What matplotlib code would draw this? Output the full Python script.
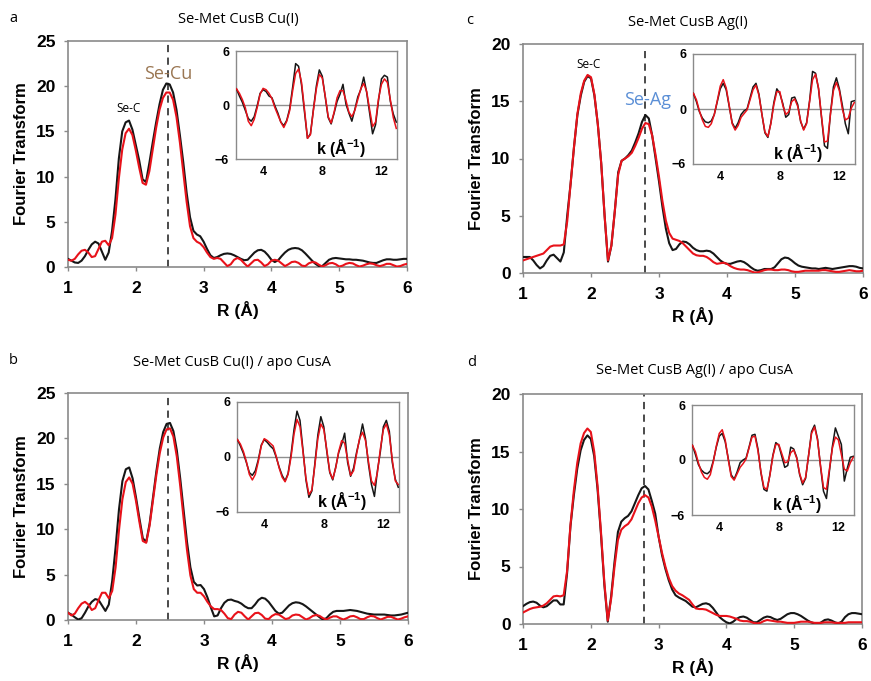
import numpy as np
import matplotlib
matplotlib.use("Agg")
import matplotlib.pyplot as plt

plt.rcParams['font.family'] = ['Liberation Sans', 'DejaVu Sans']
plt.rcParams['mathtext.fontset'] = 'custom'
plt.rcParams['mathtext.bf'] = 'Liberation Sans:bold'
plt.rcParams['mathtext.rm'] = 'Liberation Sans:bold'

# R grid (Å) shared by all Fourier transform curves, 0.05 Å spacing
r_grid = np.round(np.arange(1.0, 6.0001, 0.05), 2)
# k grid (Å^-1) for the EXAFS insets, 0.2 spacing
k_grid = np.round(np.arange(2.2, 13.0001, 0.2), 1)

# --- a: Se-Met CusB Cu(I) ---
ft_a_exp = [0.9, 0.7, 0.5, 0.45, 0.7, 1.2, 1.9, 2.5, 2.8, 2.6,
            1.7, 0.8, 1.6, 4.0, 7.5, 12.0, 15.0, 16.0, 16.2, 15.2,
            13.5, 11.8, 9.7, 9.4, 11.5, 13.8, 16.0, 18.0, 19.6, 20.3,
            20.2, 19.3, 17.4, 14.6, 11.6, 8.2, 5.5, 4.0, 3.6, 3.4,
            2.8, 2.0, 1.3, 1.0, 1.1, 1.3, 1.45, 1.5, 1.45, 1.3,
            1.1, 0.9, 0.75, 0.8, 1.2, 1.6, 1.85, 1.9, 1.7, 1.3,
            0.8, 0.55, 0.75, 1.2, 1.6, 1.9, 2.05, 2.1, 2.05, 1.85,
            1.5, 1.1, 0.7, 0.35, 0.1, 0.1, 0.45, 0.8, 0.95, 1.0,
            0.95, 0.9, 0.85, 0.85, 0.8, 0.8, 0.75, 0.7, 0.6, 0.5,
            0.45, 0.45, 0.6, 0.75, 0.85, 0.85, 0.8, 0.8, 0.85, 0.9,
            0.9]
ft_a_fit = [0.8, 0.7, 0.9, 1.4, 1.8, 1.9, 1.6, 1.1, 1.2, 2.0,
            2.8, 2.9, 2.4, 3.2, 5.8, 9.8, 13.0, 14.8, 15.3, 14.6,
            12.9, 11.0, 9.3, 9.1, 10.6, 13.0, 15.4, 17.4, 18.7, 19.3,
            19.3, 18.5, 16.6, 13.8, 10.5, 7.2, 4.5, 3.2, 2.8, 2.6,
            2.2, 1.6, 1.1, 0.9, 1.0, 0.9, 0.5, 0.1, 0.3, 0.8,
            1.0, 0.8, 0.4, 0.05, 0.4, 0.75, 0.8, 0.5, 0.1, 0.3,
            0.7, 0.8, 0.7, 0.4, 0.1, 0.3, 0.55, 0.6, 0.45, 0.15,
            0.1, 0.4, 0.55, 0.5, 0.25, 0.05, 0.2, 0.4, 0.45, 0.3,
            0.05, 0.15, 0.35, 0.45, 0.4, 0.2, 0.05, 0.15, 0.3, 0.4,
            0.35, 0.2, 0.1, 0.2, 0.35, 0.35, 0.2, 0.05, 0.1, 0.25,
            0.35]
chi_a_exp = [1.8, 1.0, 0.3, -0.6, -1.5, -1.8, -1.3, -0.1, 1.3, 1.7,
             1.5, 1.0, 0.8, -0.1, -0.9, -1.9, -2.3, -1.7, -0.4, 2.0,
             4.6, 4.3, 2.2, -0.8, -3.7, -3.2, -0.5, 2.1, 3.9, 3.2,
             0.9, -1.4, -2.1, -0.9, 0.4, 1.2, 2.3, 0.1, -0.9, -1.8,
             -0.5, 0.9, 1.7, 3.1, 1.4, -0.9, -3.2, -2.2, 0.5, 2.9,
             3.3, 3.1, 0.4, -1.0, -1.9]
chi_a_fit = [1.8, 1.3, 0.6, -0.3, -1.8, -2.3, -1.6, -0.3, 1.2, 1.85,
             1.7, 1.3, 0.7, -0.3, -1.1, -1.9, -2.5, -1.8, -0.6, 1.6,
             3.5, 4.0, 2.5, -0.5, -3.7, -3.3, -0.6, 1.8, 3.4, 3.0,
             1.0, -1.3, -2.0, -0.8, 0.8, 1.6, 1.6, 0.5, -0.8, -1.3,
             -0.6, 0.6, 1.8, 2.4, 1.5, -0.5, -2.4, -1.9, 0.7, 2.3,
             2.9, 2.5, 0.6, -1.4, -2.6]

# --- b: Se-Met CusB Cu(I) / apo CusA ---
ft_b_exp = [0.8, 0.6, 0.3, 0.05, 0.2, 0.8, 1.5, 2.0, 2.3, 2.2,
            1.6, 1.0, 1.7, 4.3, 8.0, 12.2, 15.3, 16.6, 16.8, 15.6,
            13.5, 11.2, 9.0, 8.6, 10.6, 13.5, 16.4, 18.9, 20.7, 21.6,
            21.7, 20.8, 18.7, 15.6, 12.1, 8.6, 5.8, 4.2, 3.8, 3.85,
            3.4, 2.5, 1.4, 0.4, 0.5, 1.3, 1.9, 2.2, 2.25, 2.1,
            2.0, 1.8, 1.5, 1.3, 1.3, 1.7, 2.2, 2.45, 2.35, 2.0,
            1.5, 1.0, 0.7, 0.8, 1.2, 1.6, 1.85, 1.95, 1.9, 1.75,
            1.5, 1.2, 0.9, 0.6, 0.3, 0.05, 0.2, 0.6, 0.9, 1.0,
            1.0, 1.0, 1.05, 1.1, 1.05, 1.0, 0.9, 0.8, 0.7, 0.65,
            0.6, 0.6, 0.6, 0.6, 0.55, 0.5, 0.5, 0.55, 0.6, 0.7,
            0.8]
ft_b_fit = [0.8, 0.5, 0.7, 1.3, 1.8, 2.0, 1.7, 1.1, 1.3, 2.2,
            3.0, 3.0, 2.4, 3.2, 5.8, 9.9, 13.3, 15.2, 15.7, 15.0,
            13.1, 10.8, 8.7, 8.5, 10.4, 13.2, 16.0, 18.4, 20.1, 21.0,
            21.1, 20.2, 18.0, 14.8, 11.2, 7.7, 4.9, 3.4, 3.0, 3.0,
            2.6, 2.0, 1.5, 1.2, 1.2, 1.1, 0.7, 0.2, 0.1, 0.6,
            0.9, 0.8, 0.4, 0.05, 0.4, 0.75, 0.8, 0.55, 0.15, 0.1,
            0.45, 0.65, 0.6, 0.35, 0.1, 0.2, 0.5, 0.6, 0.55, 0.3,
            0.05, 0.2, 0.45, 0.55, 0.45, 0.2, 0.05, 0.25, 0.4, 0.4,
            0.2, 0.05, 0.2, 0.4, 0.45, 0.3, 0.1, 0.1, 0.3, 0.45,
            0.4, 0.2, 0.05, 0.2, 0.35, 0.35, 0.2, 0.05, 0.15, 0.3,
            0.4]
chi_b_exp = [1.9, 1.2, 0.4, -0.6, -1.7, -2.0, -1.5, -0.3, 1.3, 1.9,
             1.6, 1.2, 0.9, 0.0, -1.1, -2.0, -2.6, -1.8, 0.3, 3.0,
             5.0, 4.0, 0.8, -2.5, -4.4, -3.7, -0.7, 2.4, 4.4, 3.3,
             0.6, -1.7, -2.5, -1.1, 0.5, 1.4, 2.6, -0.6, -2.1, -1.2,
             0.5, 1.9, 3.6, 2.0, -0.8, -3.0, -4.3, -1.5, 0.6, 3.3,
             4.0, 2.8, -0.6, -2.4, -3.3]
chi_b_fit = [1.9, 1.4, 0.6, -0.5, -1.9, -2.5, -1.9, -0.5, 1.2, 2.0,
             1.8, 1.5, 1.2, 0.1, -1.2, -2.2, -2.7, -1.9, 0.0, 2.5,
             4.1, 3.3, 0.6, -2.3, -4.1, -3.6, -0.9, 2.0, 3.6, 3.0,
             0.8, -1.6, -2.4, -1.2, 0.6, 1.8, 1.5, -0.3, -2.0, -1.5,
             0.3, 2.0, 2.7, 1.8, -0.5, -2.6, -3.1, -1.7, 0.9, 3.0,
             3.6, 2.4, -0.3, -2.6, -3.0]

# --- c: Se-Met CusB Ag(I) ---
ft_c_exp = [1.4, 1.4, 1.4, 1.1, 0.7, 0.4, 0.6, 1.1, 1.5, 1.6,
            1.3, 1.0, 1.8, 5.0, 7.8, 11.0, 13.8, 15.5, 16.7, 17.2,
            17.0, 15.5, 13.0, 9.6, 5.0, 1.0, 2.4, 5.4, 8.8, 9.8,
            10.0, 10.3, 10.7, 11.4, 12.2, 13.2, 13.8, 13.5, 12.0, 10.0,
            8.0, 5.8, 3.9, 2.6, 2.0, 2.1, 2.5, 2.75, 2.7, 2.5,
            2.2, 2.0, 1.9, 1.9, 1.95, 1.9, 1.7, 1.4, 1.1, 0.9,
            0.8, 0.8, 0.9, 1.0, 1.05, 0.95, 0.75, 0.5, 0.3, 0.2,
            0.25, 0.35, 0.35, 0.35, 0.5, 0.85, 1.2, 1.35, 1.3, 1.1,
            0.85, 0.65, 0.55, 0.5, 0.45, 0.4, 0.4, 0.35, 0.4, 0.45,
            0.4, 0.35, 0.4, 0.45, 0.5, 0.55, 0.6, 0.6, 0.55, 0.45,
            0.4]
ft_c_fit = [1.1, 1.2, 1.3, 1.4, 1.5, 1.6, 1.7, 2.0, 2.3, 2.4,
            2.4, 2.4, 2.5, 4.5, 7.8, 11.0, 13.9, 15.7, 16.8, 17.3,
            17.1, 15.6, 13.0, 9.6, 5.0, 1.1, 2.4, 5.4, 8.6, 9.8,
            10.0, 10.2, 10.5, 11.1, 11.8, 12.6, 13.1, 13.0, 12.0, 10.3,
            8.4, 6.3, 4.6, 3.5, 3.0, 2.9, 2.8, 2.6, 2.3, 2.0,
            1.7, 1.55, 1.5, 1.5, 1.4, 1.2, 0.95, 0.8, 0.85, 0.9,
            0.8, 0.6, 0.45, 0.35, 0.3, 0.3, 0.25, 0.15, 0.05, 0.05,
            0.15, 0.25, 0.3, 0.3, 0.25, 0.25, 0.3, 0.3, 0.25, 0.15,
            0.1, 0.1, 0.15, 0.2, 0.2, 0.2, 0.2, 0.2, 0.25, 0.25,
            0.2, 0.15, 0.1, 0.1, 0.15, 0.2, 0.25, 0.2, 0.15, 0.15,
            0.2]
chi_c_exp = [1.7, 0.8, -0.3, -1.0, -1.4, -1.5, -1.3, -0.6, 0.8, 2.2,
             2.8, 2.1, 0.3, -1.5, -2.1, -1.5, -0.6, -0.2, 0.0, 1.2,
             2.4, 2.8, 1.6, -0.6, -2.6, -3.1, -1.5, 0.7, 2.2, 1.7,
             0.6, -0.9, -0.6, 1.2, 1.3, 0.5, -1.4, -2.2, -1.5, 0.9,
             4.1, 3.9, 2.2, -0.9, -4.0, -4.3, -0.5, 2.4, 3.4, 2.2,
             0.4, -1.6, -2.7, 0.8, 0.9]
chi_c_fit = [1.7, 1.0, -0.2, -1.2, -1.9, -2.0, -1.6, -0.6, 0.9, 2.5,
             3.2, 2.3, 0.4, -1.6, -2.3, -1.8, -0.9, -0.5, -0.1, 1.0,
             2.1, 2.6, 1.5, -0.6, -2.5, -3.0, -1.6, 0.5, 1.9, 1.9,
             0.4, -0.6, -0.3, 0.8, 1.1, 0.3, -1.3, -2.3, -1.6, 0.8,
             3.2, 3.8, 2.3, -0.8, -3.6, -3.5, -0.6, 2.0, 2.9, 2.0,
             0.0, -1.2, -1.0, 0.1, 0.7]

# --- d: Se-Met CusB Ag(I) / apo CusA ---
ft_d_exp = [1.55, 1.75, 1.9, 1.95, 1.85, 1.6, 1.45, 1.55, 1.8, 2.05,
            2.05, 1.7, 1.7, 4.4, 8.5, 11.2, 13.5, 15.1, 16.0, 16.4,
            16.1, 14.6, 11.7, 7.8, 3.4, 0.2, 2.4, 5.4, 8.0, 8.9,
            9.2, 9.4, 9.8, 10.5, 11.2, 11.8, 12.0, 11.7, 10.7, 9.6,
            7.6, 6.0, 4.8, 3.8, 3.0, 2.5, 2.3, 2.15, 2.0, 1.75,
            1.5, 1.45, 1.6, 1.75, 1.8, 1.7, 1.4, 1.0, 0.6, 0.35,
            0.15, 0.05, 0.2, 0.45, 0.6, 0.65, 0.55, 0.35, 0.15, 0.15,
            0.35, 0.55, 0.65, 0.6, 0.45, 0.35, 0.45, 0.65, 0.85, 0.95,
            0.95, 0.85, 0.7, 0.5, 0.3, 0.15, 0.05, 0.0, 0.15, 0.35,
            0.4, 0.3, 0.15, 0.05, 0.2, 0.6, 0.85, 0.95, 0.95, 0.9,
            0.85]
ft_d_fit = [1.0, 1.15, 1.3, 1.4, 1.45, 1.5, 1.6, 1.8, 2.1, 2.4,
            2.45, 2.4, 2.5, 4.6, 8.6, 11.6, 14.0, 15.7, 16.6, 17.0,
            16.7, 15.0, 12.0, 8.0, 3.6, 0.3, 2.2, 5.0, 7.3, 8.2,
            8.5, 8.7, 9.1, 9.8, 10.5, 11.0, 11.2, 11.0, 10.2, 9.0,
            7.6, 6.2, 5.0, 4.0, 3.3, 2.9, 2.65, 2.5, 2.3, 2.1,
            1.7, 1.35, 1.3, 1.3, 1.25, 1.1, 0.95, 0.8, 0.7, 0.7,
            0.7, 0.65, 0.55, 0.45, 0.3, 0.25, 0.25, 0.2, 0.1, 0.05,
            0.1, 0.25, 0.35, 0.3, 0.25, 0.2, 0.2, 0.15, 0.1, 0.1,
            0.1, 0.15, 0.2, 0.2, 0.2, 0.15, 0.1, 0.1, 0.1, 0.15,
            0.15, 0.15, 0.1, 0.1, 0.1, 0.1, 0.15, 0.15, 0.15, 0.15,
            0.15]
chi_d_exp = [1.6, 0.6, -0.5, -1.1, -1.4, -1.5, -1.2, -0.1, 1.4, 2.6,
             2.9, 2.0, 0.2, -1.6, -2.1, -1.3, -0.3, 0.0, 0.2, 1.4,
             2.7, 2.8, 1.2, -1.4, -3.2, -3.4, -1.6, 0.5, 1.9, 1.6,
             0.4, -0.8, -0.6, 1.4, 1.2, 0.3, -1.6, -2.7, -2.0, 0.5,
             3.1, 3.8, 2.3, -0.7, -3.4, -4.2, -1.2, 1.5, 3.5, 2.6,
             1.7, -2.3, -0.9, 0.3, 0.4]
chi_d_fit = [1.6, 0.9, -0.3, -1.3, -1.9, -2.1, -1.6, -0.2, 1.5, 2.9,
             3.3, 2.2, 0.1, -1.8, -2.2, -1.5, -0.8, -0.4, 0.1, 1.3,
             2.5, 2.6, 1.0, -1.3, -3.0, -3.2, -1.7, 0.4, 1.7, 1.7,
             0.7, -0.3, -0.2, 0.8, 1.1, 0.2, -1.5, -2.5, -1.9, 0.5,
             2.9, 3.6, 2.2, -0.6, -3.0, -3.2, -1.0, 1.3, 2.5, 2.2,
             0.6, -1.0, -1.2, -0.3, 0.3]

EXP_COLOR = '#161616'
FIT_COLOR = '#e8121a'
FRAME = '#8a8a8a'
TITLE_FONT = ['Open Sans', 'DejaVu Sans']


def draw_panel(fig, main_rect, inset_rect, ft_exp, ft_fit, chi_exp, chi_fit,
               ymax, shell_r, dash_top, title, title_xy, letter, letter_xy):
    ax = fig.add_axes(main_rect)
    ax.plot(r_grid, ft_exp, color=EXP_COLOR, lw=1.5, zorder=3)
    ax.plot(r_grid, ft_fit, color=FIT_COLOR, lw=1.5, zorder=4)
    ax.plot([shell_r, shell_r], [0, dash_top], color='#3c3c3c', lw=1.3,
            ls=(0, (4, 3)), zorder=2)
    ax.set_xlim(1, 6)
    ax.set_ylim(0, ymax)
    ax.set_xticks(range(1, 7))
    ax.set_yticks(range(0, ymax + 1, 5))
    for s in ax.spines.values():
        s.set_color(FRAME)
        s.set_linewidth(1.2)
    ax.tick_params(colors=FRAME, length=3, width=1, labelcolor='black',
                   labelsize=12.5)
    ax.tick_params(axis='x', pad=7)
    ax.tick_params(axis='y', pad=6)
    for lab in ax.get_xticklabels() + ax.get_yticklabels():
        lab.set_fontweight('bold')
    ax.set_xlabel('R (Å)', fontsize=12.5, fontweight='bold', labelpad=4)
    ax.set_ylabel('Fourier Transform', fontsize=12, fontweight='bold',
                  labelpad=5)

    ins = fig.add_axes(inset_rect)
    ins.axhline(0, color='#8f8f8f', lw=1.0, zorder=1)
    ins.plot(k_grid, chi_exp, color=EXP_COLOR, lw=1.1, zorder=3)
    ins.plot(k_grid, chi_fit, color=FIT_COLOR, lw=1.1, zorder=4)
    ins.set_xlim(2.17, 13.05)
    ins.set_ylim(-6, 6)
    ins.set_xticks([4, 8, 12])
    ins.set_yticks([-6, 0, 6])
    for s in ins.spines.values():
        s.set_color(FRAME)
        s.set_linewidth(1.0)
    ins.tick_params(length=0, pad=5, labelsize=9)
    for lab in ins.get_xticklabels() + ins.get_yticklabels():
        lab.set_fontweight('bold')
    ins.text(0.65, 0.1, r'k (Å$^{\mathbf{-1}}$)', transform=ins.transAxes,
             ha='center', va='center', fontsize=11.5, fontweight='bold')

    fig.text(title_xy[0], title_xy[1], title, ha='center', va='center',
             fontsize=10.5, family=TITLE_FONT)
    fig.text(letter_xy[0], letter_xy[1], letter, ha='left', va='center',
             fontsize=10.5, family=TITLE_FONT)
    return ax


W, H = 871, 681
fig = plt.figure(figsize=(W / 100, H / 100), dpi=100)


def rect(x0, y0, x1, y1):
    # pixel box (top-left origin) -> figure fraction
    return [x0 / W, 1 - y1 / H, (x1 - x0) / W, (y1 - y0) / H]


ax_a = draw_panel(fig, rect(68, 41, 407, 267), rect(236, 51, 397, 159),
                  ft_a_exp, ft_a_fit, chi_a_exp, chi_a_fit, 25, 2.47, 25,
                  'Se-Met CusB Cu(I)', (238 / W, 1 - 20 / H),
                  'a', (9 / W, 1 - 18 / H))
ax_b = draw_panel(fig, rect(68, 393, 408, 620), rect(237, 402, 399, 512),
                  ft_b_exp, ft_b_fit, chi_b_exp, chi_b_fit, 25, 2.47, 25,
                  'Se-Met CusB Cu(I) / apo CusA', (232 / W, 1 - 363 / H),
                  'b', (9 / W, 1 - 360 / H))
ax_c = draw_panel(fig, rect(523, 44, 863, 273), rect(693, 54, 855, 164),
                  ft_c_exp, ft_c_fit, chi_c_exp, chi_c_fit, 20, 2.80, 19.4,
                  'Se-Met CusB Ag(I)', (688 / W, 1 - 22 / H),
                  'c', (466 / W, 1 - 20 / H))
ax_d = draw_panel(fig, rect(523, 394, 862, 624), rect(692, 405, 854, 515),
                  ft_d_exp, ft_d_fit, chi_d_exp, chi_d_fit, 20, 2.78, 20,
                  'Se-Met CusB Ag(I) / apo CusA', (694 / W, 1 - 370 / H),
                  'd', (467 / W, 1 - 362 / H))

# peak assignments
ax_a.text(1.89, 16.8, 'Se-C', ha='center', va='bottom', fontsize=8.5,
          family=TITLE_FONT)
ax_a.text(2.48, 20.3, 'Se-Cu', ha='center', va='bottom', fontsize=13,
          color='#9a7652', family=TITLE_FONT)
ax_c.text(1.96, 17.6, 'Se-C', ha='center', va='bottom', fontsize=8.5,
          family=TITLE_FONT)
ax_c.text(2.83, 14.3, 'Se-Ag', ha='center', va='bottom', fontsize=13,
          color='#5b8fd6', family=TITLE_FONT)

fig.savefig('out.png', dpi=100)
